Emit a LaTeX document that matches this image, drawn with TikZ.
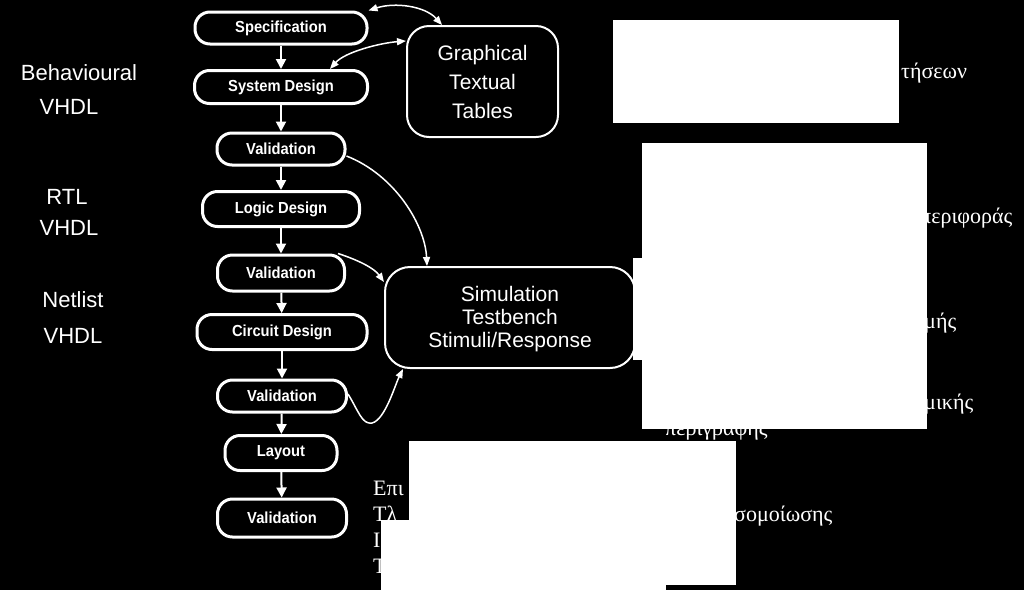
\documentclass[tikz,border=0pt]{standalone}
\usepackage{fontspec}
\setmainfont{Liberation Serif}
\newfontfamily\hv{Liberation Sans}
\newfontfamily\hvn{Liberation Sans}[FakeStretch=0.92]
\usetikzlibrary{arrows.meta}
\begin{document}
\begin{tikzpicture}[x=1pt,y=-1pt,
  stage/.style={draw=white, line width=3pt, fill=black, rounded corners=15pt, text=white,
    font=\hvn\bfseries\fontsize{16}{18}\selectfont, inner sep=0pt},
  bigbox/.style={draw=white, line width=2pt, fill=black, text=white,
    font=\hv\fontsize{21}{23}\selectfont, align=center, inner sep=0pt},
  flow/.style={white, line width=2pt, -{Triangle[width=10pt,length=10pt]}},
  link/.style={white, line width=1.5pt, -{Triangle[width=7pt,length=9pt]}},
  both/.style={white, line width=1.5pt, {Triangle[width=7pt,length=9pt]}-{Triangle[width=7pt,length=9pt]}},
  level/.style={text=white, font=\hv\fontsize{22}{26}\selectfont, inner sep=0pt},
  gr/.style={text=white, font=\fontsize{22}{26}\selectfont, anchor=base west, inner sep=0pt},
  cover/.style={fill=white}]
\fill[black] (0,0) rectangle (1024,590);
\useasboundingbox (0,0) rectangle (1024,590);

% Greek text fragments (partly covered)
\node[gr] (g1) at (901,78) {τήσεων};
\node[gr] (g2) at (920,223) {περιφοράς};
\node[gr] (g3) at (924,328) {μής};
\node[gr] (g4) at (924,409) {μικής};
\node[gr] (g5) at (665,435) {περιγραφης};
\node[gr] (g6) at (373,495) {Επι};
\node[gr] (g7) at (373,521) {Τλ};
\node[gr] (g8) at (734,521) {σομοίωσης};
\node[gr] (g9) at (373,547) {Ι};
\node[gr] (g10) at (373,573) {Τ};

% level labels
\node[level] (l1a) at (79,73) {Behavioural};
\node[level] (l1b) at (69,107) {VHDL};
\node[level] (l2a) at (67,197) {RTL};
\node[level] (l2b) at (69,228) {VHDL};
\node[level] (l3a) at (73,300) {Netlist};
\node[level] (l3b) at (73,336) {VHDL};

% flow stages
\node[stage, minimum width=172pt, minimum height=32pt] (spec) at (281,28) {Specification};
\node[stage, minimum width=173pt, minimum height=33pt] (sysd) at (281,87) {System Design};
\node[stage, minimum width=128pt, minimum height=32pt] (val1) at (281,149) {Validation};
\node[stage, minimum width=157pt, minimum height=35pt] (logic) at (281,209) {Logic Design};
\node[stage, minimum width=127pt, minimum height=36pt] (val2) at (281,273) {Validation};
\node[stage, minimum width=170pt, minimum height=35pt] (circ) at (282,332) {Circuit Design};
\node[stage, minimum width=129pt, minimum height=32pt] (val3) at (282,396) {Validation};
\node[stage, minimum width=112pt, minimum height=35pt] (lay) at (281,453) {Layout};
\node[stage, minimum width=129pt, minimum height=38pt] (val4) at (282,518) {Validation};

\draw[flow] (spec) -- (sysd);
\draw[flow] (sysd) -- (val1);
\draw[flow] (val1) -- (logic);
\draw[flow] (logic) -- (val2);
\draw[flow] (val2) -- (circ);
\draw[flow] (circ) -- (val3);
\draw[flow] (val3) -- (lay);
\draw[flow] (lay) -- (val4);

% side boxes
\node[bigbox, rounded corners=22pt, minimum width=151pt, minimum height=111pt,
  font=\hv\fontsize{21}{29}\selectfont] (graph) at (482.5,81.5) {Graphical\\Textual\\Tables};
\node[bigbox, rounded corners=25pt, minimum width=250pt, minimum height=101pt] (sim) at (510,317.5)
  {\rule{0pt}{19pt}Simulation\\Testbench\\Stimuli/Response};

% connectors
\draw[both] (spec.north east) .. controls (395,2) and (425,6) .. ([xshift=36pt]graph.north west);
\draw[both] ([xshift=49pt]sysd.north) .. controls (345,52) and (380,43) .. ([yshift=-16pt]graph.north west);
\draw[link] ([yshift=-7pt]val1.east) .. controls (395,175) and (425,225) .. ([xshift=43pt]sim.north west);
\draw[link] ([xshift=-8pt]val2.north east) .. controls (358,260) and (374,268) .. ([yshift=-16pt]sim.north west);
\draw[link] ([yshift=2pt]val3.east) .. controls (358,410) and (362,425) .. (372,423)
  .. controls (385,420) and (395,385) .. ([xshift=19pt]sim.south west);

% white cover rectangles
\fill[cover] (613,20) rectangle (899,123);
\fill[cover] (642,143) rectangle (927,429);
\fill[cover] (633,258) rectangle (700,360);
\fill[cover] (409,441) rectangle (736,585);
\fill[cover] (381,520) rectangle (666,590);
\end{tikzpicture}
\end{document}
